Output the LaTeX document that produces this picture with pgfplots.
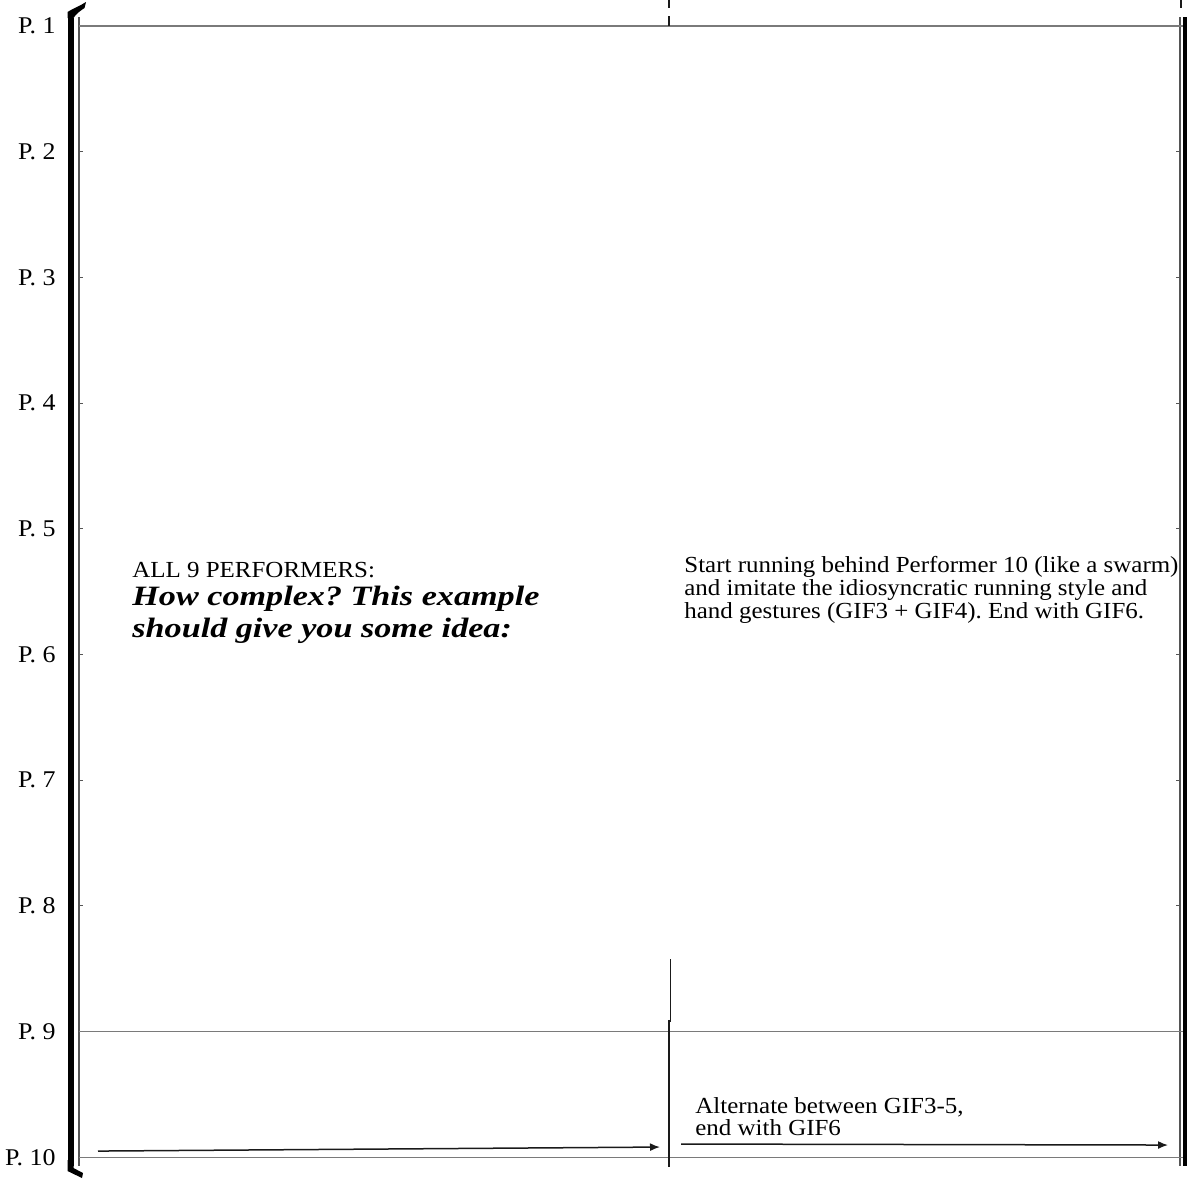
\documentclass[border=0pt]{standalone}
\usepackage{fontspec}
\setmainfont{Liberation Serif}
\newfontfamily\widefont[FakeStretch=1.085]{Liberation Serif}
\newfontfamily\tickfont[FakeStretch=1.08]{Liberation Serif}
\newfontfamily\bifont[FakeStretch=1.22]{Liberation Serif}
\usepackage{pgfplots}
\pgfplotsset{compat=1.18}
\usetikzlibrary{arrows.meta}
\definecolor{gridgray}{HTML}{7A7A7A}
\definecolor{axgray}{HTML}{555555}
\definecolor{ink}{HTML}{1A1A1A}
\frenchspacing
\begin{document}
\frenchspacing
\begin{tikzpicture}
\path[use as bounding box] (0,0) rectangle (593.5pt,-589pt);
\begin{axis}[
  at={(39.5pt,-583pt)}, anchor=south west,
  width=550.5pt, height=574.5pt, scale only axis,
  xmin=0, xmax=1101, ymin=0.928, ymax=10.07, y dir=reverse,
  axis x line=none, axis y line=box,
  xtick=\empty,
  ytick={1,2,3,4,5,6,7,8,9,10},
  yticklabels={P. 1,P. 2,P. 3,P. 4,P. 5,P. 6,P. 7,P. 8,P. 9,P. 10},
  ticklabel pos=left,
  tick align=inside,
  major tick length=2pt,
  tick style={axgray, line width=0.5pt},
  axis line style={axgray, line width=0.8pt},
  yticklabel style={font=\tickfont\fontsize{12}{14}\selectfont, inner sep=0pt, xshift=-11.5pt},
  clip=false,
]
% staff lines
\addplot[gridgray, line width=0.6pt] coordinates {(0,1) (1106,1)};
\addplot[gridgray, line width=0.6pt] coordinates {(0,9) (1106,9)};
\addplot[gridgray, line width=0.6pt] coordinates {(0,10) (1106,10)};
% bar lines at x=590
\addplot[ink, line width=0.5pt] coordinates {(591,8.423) (591,8.924)};
\addplot[ink, line width=0.6pt] coordinates {(590,8.908) (590,10.078)};
\addplot[ink, line width=0.6pt] coordinates {(590,0.793) (590,0.856)};
\addplot[ink, line width=0.6pt] coordinates {(590,0.920) (590,1.0)};
\addplot[ink, line width=0.6pt] coordinates {(1102,0.793) (1102,0.856)};
% final thick barline
\addplot[black, line width=2pt] coordinates {(1105.5,0.928) (1105.5,10.07)};
% arrows
\addplot[ink, line width=0.75pt, -{Latex[length=5pt,width=4pt]}] coordinates {(19,9.951) (581,9.919)};
\addplot[ink, line width=0.75pt, -{Latex[length=5pt,width=4pt]}] coordinates {(602,9.895) (1089,9.903)};
% texts
\node[anchor=base west, inner sep=0pt, font=\widefont\fontsize{11.5}{13}\selectfont] at (axis cs:53,5.384) {ALL 9 PERFORMERS:};
\node[anchor=base west, inner sep=0pt, font=\bifont\fontsize{14}{16}\selectfont\bfseries\itshape] at (axis cs:53,5.607) {How complex? This example};
\node[anchor=base west, inner sep=0pt, font=\bifont\fontsize{14}{16}\selectfont\bfseries\itshape] at (axis cs:53,5.861) {should give you some idea:};
\node[anchor=base west, inner sep=0pt, font=\widefont\fontsize{11.5}{13}\selectfont] at (axis cs:605,5.344) {Start running behind Performer 10 (like a swarm)};
\node[anchor=base west, inner sep=0pt, font=\widefont\fontsize{11.5}{13}\selectfont] at (axis cs:605,5.527) {and imitate the idiosyncratic running style and};
\node[anchor=base west, inner sep=0pt, font=\widefont\fontsize{11.5}{13}\selectfont] at (axis cs:605,5.710) {hand gestures (GIF3 + GIF4). End with GIF6.};
\node[anchor=base west, inner sep=0pt, font=\widefont\fontsize{11.5}{13}\selectfont] at (axis cs:616,9.649) {Alternate between GIF3-5,};
\node[anchor=base west, inner sep=0pt, font=\widefont\fontsize{11.5}{13}\selectfont] at (axis cs:616,9.824) {end with GIF6};
\end{axis}
% system bracket
\begin{scope}[x=0.5pt,y=-0.5pt]
\fill[black] (67.5,18) rectangle (73.5,1166);
\fill[black] (67.5,18) -- (67.5,12) .. controls (72,9) and (80,6) .. (86,2) -- (84.5,8) .. controls (80,11) and (76,14) .. (73.5,18) -- cycle;
\fill[black] (67.5,1160) -- (73.5,1160) -- (73.5,1168) -- (83,1173) -- (82,1178) -- (67.5,1171) -- cycle;
\end{scope}
\end{tikzpicture}
\end{document}
